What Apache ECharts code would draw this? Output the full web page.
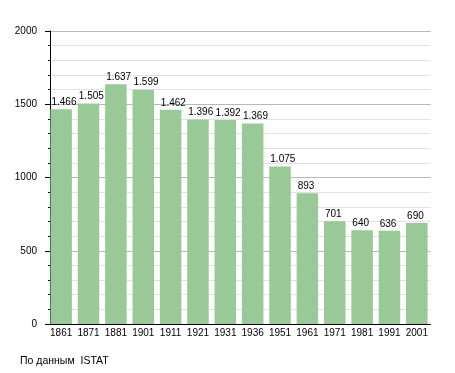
<!DOCTYPE html>
<html><head><meta charset="utf-8">
<script src="https://cdn.jsdelivr.net/npm/echarts@6/dist/echarts.min.js"></script>
<style>html,body{margin:0;padding:0;background:#fff}#c{width:455px;height:373px}</style>
</head><body><div id="c"></div>
<script>
var years = ['1861','1871','1881','1901','1911','1921','1931','1936','1951','1961','1971','1981','1991','2001'];
var population = [1466,1505,1637,1599,1462,1396,1392,1369,1075,893,701,640,636,690];
var yTicks = [0,500,1000,1500,2000];
var sourceText = 'По данным  ISTAT';

function fmt(v){ var s = String(v); return s.length > 3 ? s.slice(0, s.length-3) + '.' + s.slice(-3) : s; }

var chart = echarts.init(document.getElementById('c'), null, {renderer:'canvas'});
var font = '"Liberation Sans", Arial, sans-serif';
chart.setOption({
  animation:false,
  textStyle:{fontFamily:font},
  grid:{left:47.5, right:24.5, top:31, bottom:49},
  graphic:[{type:'text', left:20, top:356, style:{text:sourceText, font:'10.5px '+font, fill:'#000'}}],
  xAxis:{
    type:'category', data:years,
    axisLine:{lineStyle:{color:'#000', width:1}},
    axisTick:{show:false},
    axisLabel:{color:'#000', fontSize:10, margin:4, interval:0, fontFamily:font}
  },
  yAxis:{
    type:'value', min:yTicks[0], max:yTicks[yTicks.length-1], interval:500, offset:-2.5,
    axisLine:{show:true, lineStyle:{color:'#000', width:1}},
    axisTick:{show:true, length:5, lineStyle:{color:'#000'}},
    minorTick:{show:true, splitNumber:5, length:2, lineStyle:{color:'#000'}},
    splitLine:{show:true, lineStyle:{color:'#b8b8b8', width:1}},
    minorSplitLine:{show:true, lineStyle:{color:'#e2e2e2', width:1}},
    axisLabel:{color:'#000', fontSize:10, margin:13, fontFamily:font, formatter:function(v){return String(v);}}
  },
  series:[{
    type:'bar', data:population, barWidth:21.5,
    itemStyle:{color:'#98c996'},
    label:{show:true, position:[1,-2], align:'left', verticalAlign:'bottom', color:'#000', fontSize:10, fontFamily:font,
      formatter:function(p){return fmt(p.value);}}
  }]
});
</script></body></html>
